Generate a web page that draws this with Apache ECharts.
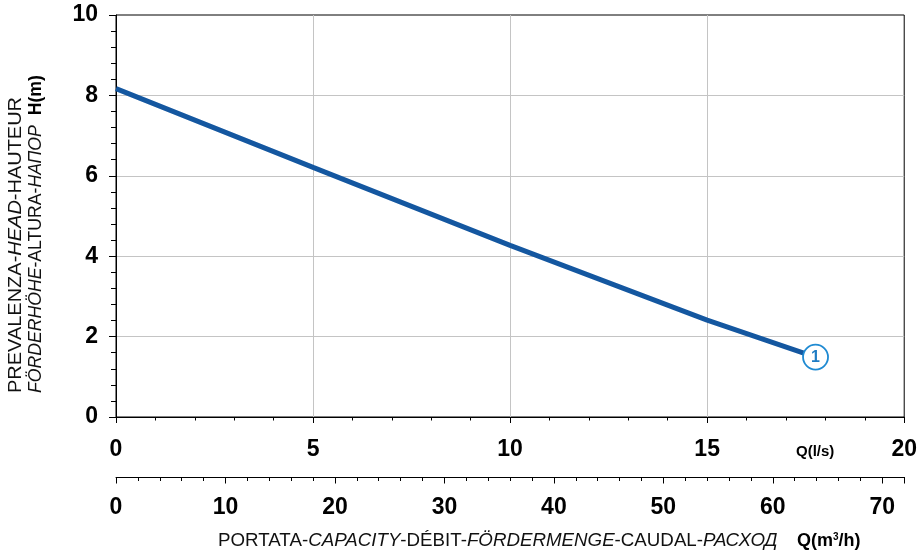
<!DOCTYPE html>
<html>
<head>
<meta charset="utf-8">
<script src="https://cdn.jsdelivr.net/npm/echarts@6/dist/echarts.min.js"></script>
<style>html,body{margin:0;padding:0;background:#fff}#c{width:920px;height:556px}</style>
</head>
<body>
<div id="c"></div>
<script>
// ---- data ----
var flowLs = [0, 5, 10, 15, 17.75];        // Q (l/s)
var headM  = [8.17, 6.21, 4.27, 2.41, 1.49]; // H (m)
var curveLabel = '1';
var qLsMax = 20;
var qM3hMax = 72;  // 20 l/s = 72 m3/h
var hMax = 10;

var FONT = '"Liberation Sans", Arial, sans-serif';
var linePts = flowLs.map(function (q, i) { return [q, headM[i]]; });
var endPt = [linePts[linePts.length - 1]];

var chart = echarts.init(document.getElementById('c'), null, {renderer: 'canvas'});
var black = '#000';
var grey = '#c4c4c4';
chart.setOption({
  animation: false,
  backgroundColor: '#fff',
  textStyle: {fontFamily: FONT},
  grid: {left: 116, right: 13, top: 15, bottom: 139, show: true, borderColor: black, borderWidth: 1, backgroundColor: 'transparent'},
  xAxis: [
    {
      type: 'value', min: 0, max: qLsMax, interval: 5, position: 'bottom',
      axisLine: {show: true, lineStyle: {color: black, width: 1}},
      axisTick: {show: true, length: 6, lineStyle: {color: black}},
      minorTick: {show: true, splitNumber: 5, length: 3.5, lineStyle: {color: black}},
      splitLine: {show: true, showMinLine: false, showMaxLine: false, lineStyle: {color: grey, width: 1}},
      axisLabel: {margin: 21, fontSize: 23, fontWeight: 'bold', color: black, fontFamily: FONT}
    },
    {
      type: 'value', min: 0, max: qM3hMax, interval: 2, position: 'bottom', offset: 60,
      axisLine: {show: true, lineStyle: {color: black, width: 1}},
      axisTick: {show: true, length: 4, lineStyle: {color: black}},
      splitLine: {show: false},
      axisLabel: {margin: 19, fontSize: 23, fontWeight: 'bold', color: black, fontFamily: FONT,
        showMaxLabel: false,
        formatter: function (v) { return v % 10 === 0 ? String(v) : ''; }}
    },
    {
      type: 'value', min: 0, max: qM3hMax, interval: 10, position: 'bottom', offset: 60,
      axisLine: {show: false},
      axisTick: {show: true, length: 6.5, lineStyle: {color: black}},
      splitLine: {show: false},
      axisLabel: {show: false}
    }
  ],
  yAxis: {
    type: 'value', min: 0, max: hMax, interval: 2,
    axisLine: {show: true, lineStyle: {color: black, width: 1}},
    axisTick: {show: true, length: 7, lineStyle: {color: black}},
    minorTick: {show: true, splitNumber: 5, length: 5, lineStyle: {color: black}},
    splitLine: {show: true, showMinLine: false, showMaxLine: false, lineStyle: {color: grey, width: 1}},
    axisLabel: {margin: 18, fontSize: 23, fontWeight: 'bold', color: black, fontFamily: FONT}
  },
  series: [
    {
      type: 'line', xAxisIndex: 0, data: linePts, showSymbol: false, symbol: 'none',
      lineStyle: {color: '#1457a0', width: 5}, z: 3
    },
    {
      type: 'scatter', xAxisIndex: 0, data: endPt, symbol: 'circle', symbolSize: 25, z: 4,
      itemStyle: {color: '#fff', borderColor: '#1f8ad2', borderWidth: 1.8, opacity: 1},
      label: {show: true, position: 'inside', formatter: curveLabel, color: '#1f7cc4', fontSize: 16, fontWeight: 'bold', fontFamily: FONT}
    }
  ],
  graphic: [
    {
      type: 'text', left: 796, top: 444,
      style: {text: 'Q(l/s)', font: 'bold 15px ' + FONT, fill: black}
    },
    {
      type: 'text', x: 218, y: 541, scaleX: 1.04,
      style: {
        text: '{n|PORTATA-}{i|CAPACITY}{n|-DÉBIT-}{i|FÖRDERMENGE}{n|-CAUDAL-}{i|РАСХОД}',
        verticalAlign: 'middle', align: 'left',
        rich: {
          n: {fontSize: 18, fontFamily: FONT, fill: '#111'},
          i: {fontSize: 18, fontFamily: FONT, fontStyle: 'italic', fill: '#111'}
        }
      }
    },
    {
      type: 'text', x: 797, y: 541,
      style: {
        text: '{b|Q(m}{s|3}{b|/h)}',
        verticalAlign: 'middle', align: 'left',
        rich: {
          b: {fontSize: 18, fontWeight: 'bold', fontFamily: FONT, fill: black},
          s: {fontSize: 10, fontWeight: 'bold', fontFamily: FONT, fill: black, verticalAlign: 'top', padding: [0, 0, 8, 0]}
        }
      }
    },
    {
      type: 'text', x: 16, y: 393, rotation: Math.PI / 2, scaleX: 1.11,
      style: {
        text: '{n|PREVALENZA-}{i|HEAD}{n|-HAUTEUR}',
        verticalAlign: 'middle', align: 'left',
        rich: {
          n: {fontSize: 18, fontFamily: FONT, fill: '#111'},
          i: {fontSize: 18, fontFamily: FONT, fontStyle: 'italic', fill: '#111'}
        }
      }
    },
    {
      type: 'text', x: 36, y: 393, rotation: Math.PI / 2, scaleX: 0.98,
      style: {
        text: '{i|FÖRDERHÖHE}{n|-ALTURA-}{i|НАПОР}{n|  }{b|H(m)}',
        verticalAlign: 'middle', align: 'left',
        rich: {
          n: {fontSize: 18, fontFamily: FONT, fill: '#111'},
          i: {fontSize: 18, fontFamily: FONT, fontStyle: 'italic', fill: '#111'},
          b: {fontSize: 18, fontFamily: FONT, fontWeight: 'bold', fill: black}
        }
      }
    }
  ]
});
</script>
</body>
</html>
